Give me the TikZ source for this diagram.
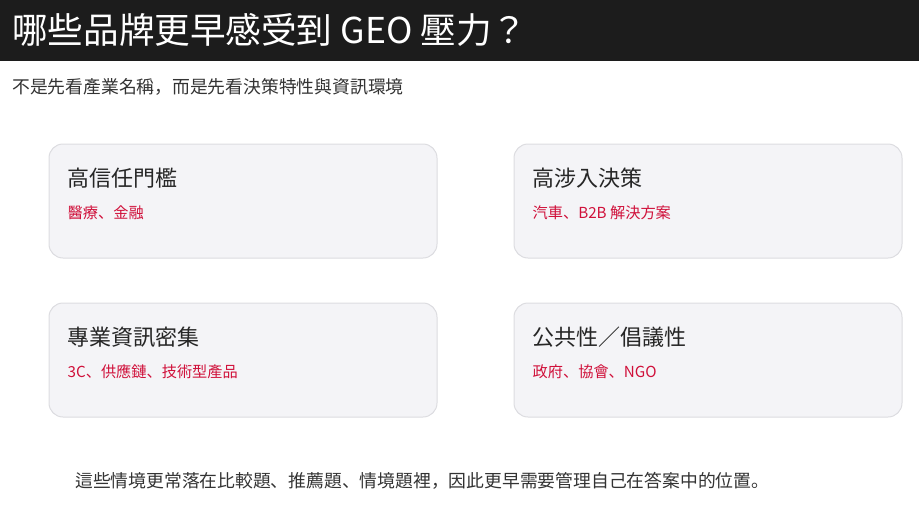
\documentclass[tikz,border=0pt]{standalone}
\usepackage{fontspec}
\setmainfont{Noto Sans CJK JP}
\usetikzlibrary{positioning}

\definecolor{titlebg}{HTML}{1C1C1C}
\definecolor{cardfill}{HTML}{F4F4F7}
\definecolor{carddraw}{HTML}{DCDCE0}
\definecolor{cardred}{HTML}{D0103A}
\definecolor{bodytext}{HTML}{333333}

\tikzset{
  card/.style={draw=carddraw, fill=cardfill, line width=1pt, rounded corners=14pt,
    minimum width=388pt, minimum height=114pt},
  cardhead/.style={anchor=west, text=black!85, font=\fontsize{22}{22}\selectfont},
  cardsub/.style={anchor=west, text=cardred, font=\fontsize{15.2}{15.2}\selectfont},
  plaintext/.style={anchor=west, text=bodytext, font=\fontsize{17.8}{17.8}\selectfont}
}

\begin{document}
\begin{tikzpicture}[x=1pt, y=-1pt, every node/.style={inner sep=0pt}]

\useasboundingbox (0,0) rectangle (919,509);
\fill [titlebg] (0,0) rectangle (919,61);

\node [anchor=west, text=white, font=\fontsize{35.6}{35.6}\selectfont] (title) at (12,30)
  {哪些品牌更早感受到 GEO 壓力？};
\node [plaintext] (subtitle) at (12,87) {不是先看產業名稱，而是先看決策特性與資訊環境};

\foreach \n/\x/\y/\head/\sub in {
    trust/243/201/高信任門檻/醫療、金融,
    involve/708/201/高涉入決策/汽車、B2B 解決方案,
    info/243/360/專業資訊密集/3C、供應鏈、技術型產品,
    public/708/360/公共性／倡議性/政府、協會、NGO}
{
  \node [card] (card-\n) at (\x,\y) {};
  \node [cardhead] (head-\n) at ([xshift=19pt, yshift=-35pt]card-\n.north west) {\head};
  \node [cardsub] (sub-\n) at ([yshift=-34pt]head-\n.west) {\sub};
}

\node [plaintext] (footer) at (75,481)
  {這些情境更常落在比較題、推薦題、情境題裡，因此更早需要管理自己在答案中的位置。};
\end{tikzpicture}
\end{document}
